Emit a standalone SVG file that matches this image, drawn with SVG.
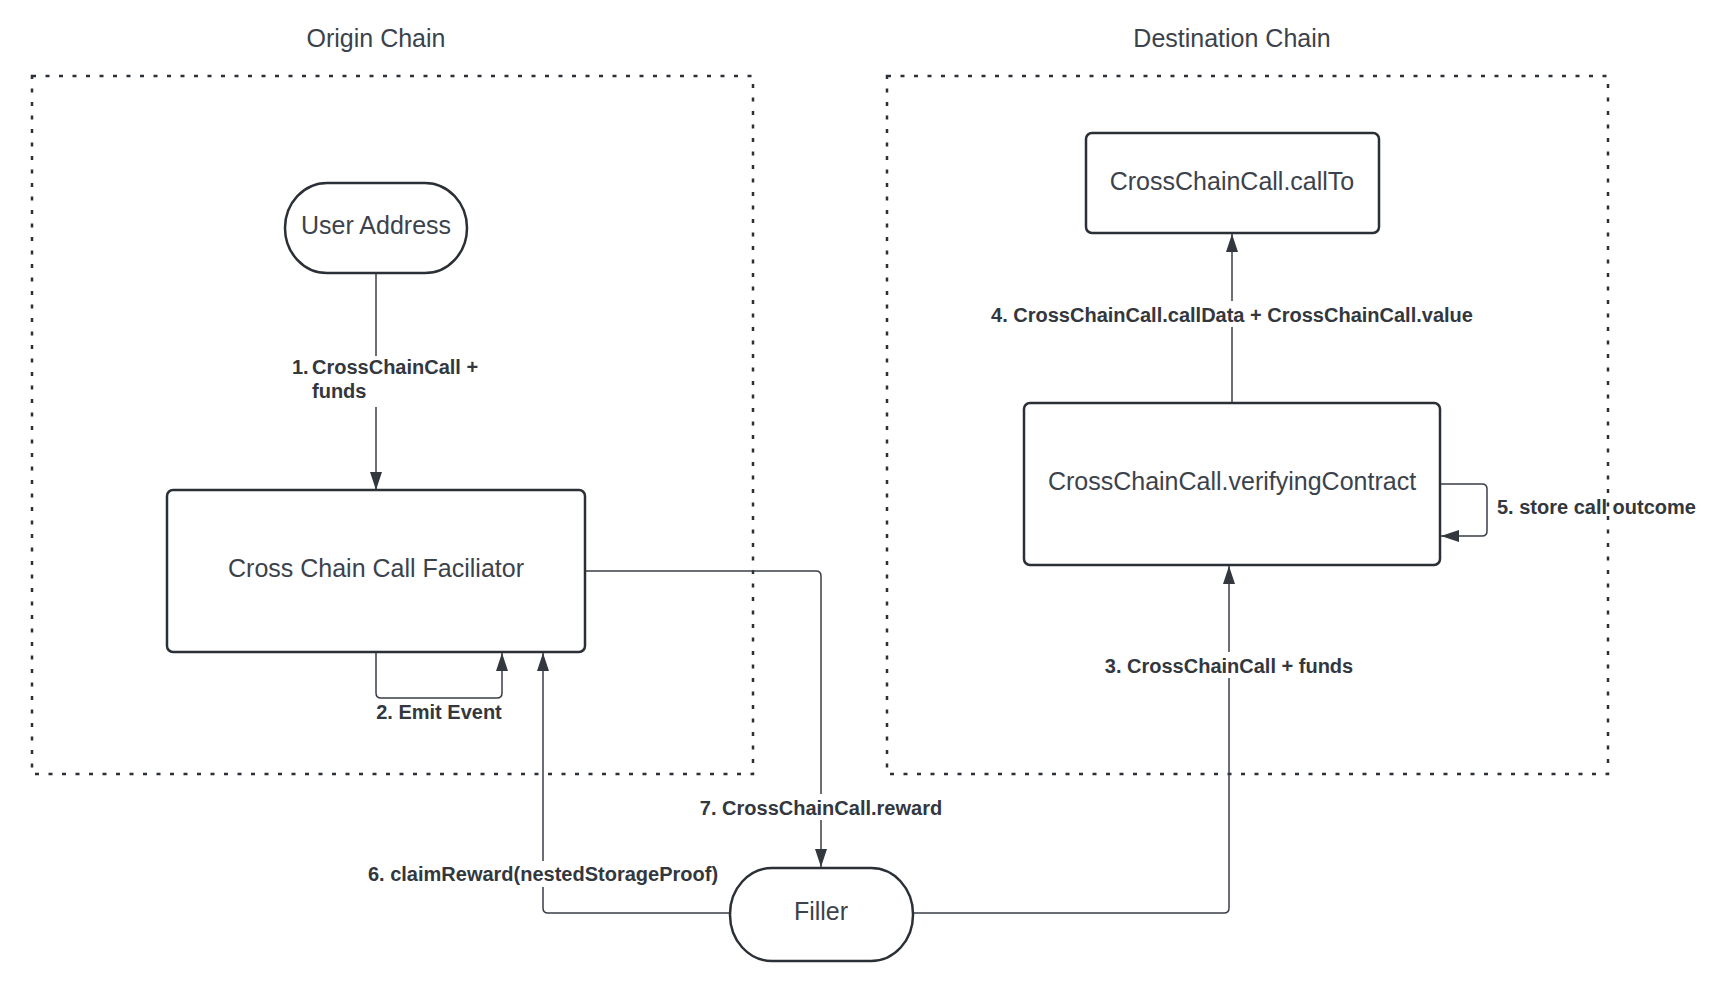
<svg xmlns="http://www.w3.org/2000/svg" width="1718" height="986" viewBox="0 0 1718 986">
  <style>
    .container { fill: none; stroke: #2b2f36; stroke-width: 2.5; stroke-dasharray: 4 9.5; }
    .title { font-family: "Liberation Sans", Arial, sans-serif; font-size: 25px; fill: #3c424b; text-anchor: middle; }
    .node { fill: #ffffff; stroke: #2b2f36; stroke-width: 2.5; }
    .ntext { font-family: "Liberation Sans", Arial, sans-serif; font-size: 25px; fill: #3c424b; text-anchor: middle; }
    .edge { fill: none; stroke: #3a3f47; stroke-width: 1.5; }
    .lbl { font-family: "Liberation Sans", Arial, sans-serif; font-size: 20px; font-weight: bold; fill: #33373e; }
    .mid { text-anchor: middle; }
    .bg { fill: #ffffff; }
  </style>
  <defs>
    <marker id="arrow" markerUnits="userSpaceOnUse" markerWidth="19" markerHeight="13" refX="18" refY="6" orient="auto">
      <path d="M0,0 L18,6 L0,12 z" fill="#33373e"/>
    </marker>
  </defs>
  <rect width="1718" height="986" fill="#ffffff"/>

  <g id="origin-chain">
    <rect class="container" x="32" y="76" width="721" height="698"/>
    <text class="title" x="376" y="47">Origin Chain</text>
  </g>
  <g id="destination-chain">
    <rect class="container" x="887" y="76" width="721" height="698"/>
    <text class="title" x="1232" y="47">Destination Chain</text>
  </g>

  <g id="connectors">
    <path class="edge" d="M376,274 V490" marker-end="url(#arrow)"/>
    <path class="edge" d="M376,652 V693 Q376,698 381,698 H497 Q502,698 502,693 V653" marker-end="url(#arrow)"/>
    <path class="edge" d="M729,913 H548 Q543,913 543,908 V653" marker-end="url(#arrow)"/>
    <path class="edge" d="M585,571 H816 Q821,571 821,576 V867" marker-end="url(#arrow)"/>
    <path class="edge" d="M913,913 H1224 Q1229,913 1229,908 V566" marker-end="url(#arrow)"/>
    <path class="edge" d="M1232,403 V234" marker-end="url(#arrow)"/>
    <path class="edge" d="M1440,484 H1482 Q1487,484 1487,489 V531 Q1487,536 1482,536 H1441" marker-end="url(#arrow)"/>

    <g id="label-1">
      <rect class="bg" x="288" y="356" width="194" height="51"/>
      <text class="lbl" x="292" y="374">1.</text>
      <text class="lbl" x="312" y="374">CrossChainCall +</text>
      <text class="lbl" x="312" y="398">funds</text>
    </g>
    <g id="label-2">
      <text class="lbl mid" x="439" y="719">2. Emit Event</text>
    </g>
    <g id="label-3">
      <rect class="bg" x="1102" y="652" width="254" height="26"/>
      <text class="lbl mid" x="1229" y="673">3. CrossChainCall + funds</text>
    </g>
    <g id="label-4">
      <rect class="bg" x="987" y="301" width="490" height="26"/>
      <text class="lbl mid" x="1232" y="322">4. CrossChainCall.callData + CrossChainCall.value</text>
    </g>
    <g id="label-5">
      <text class="lbl" x="1497" y="514">5. store call outcome</text>
    </g>
    <g id="label-6">
      <rect class="bg" x="364" y="861" width="358" height="26"/>
      <text class="lbl mid" x="543" y="881">6. claimReward(nestedStorageProof)</text>
    </g>
    <g id="label-7">
      <rect class="bg" x="697" y="794" width="248" height="26"/>
      <text class="lbl mid" x="821" y="815">7. CrossChainCall.reward</text>
    </g>
  </g>

  <g id="user-address">
    <rect class="node" x="285" y="183" width="182" height="90" rx="42" ry="45"/>
    <text class="ntext" x="376" y="234">User Address</text>
  </g>
  <g id="facilitator">
    <rect class="node" x="167" y="490" width="418" height="162" rx="6" ry="6"/>
    <text class="ntext" x="376" y="577">Cross Chain Call Faciliator</text>
  </g>
  <g id="call-to">
    <rect class="node" x="1086" y="133" width="293" height="100" rx="6" ry="6"/>
    <text class="ntext" x="1232" y="190">CrossChainCall.callTo</text>
  </g>
  <g id="verifying-contract">
    <rect class="node" x="1024" y="403" width="416" height="162" rx="6" ry="6"/>
    <text class="ntext" x="1232" y="490">CrossChainCall.verifyingContract</text>
  </g>
  <g id="filler">
    <rect class="node" x="730" y="868" width="183" height="93" rx="42" ry="46"/>
    <text class="ntext" x="821" y="920">Filler</text>
  </g>
</svg>
